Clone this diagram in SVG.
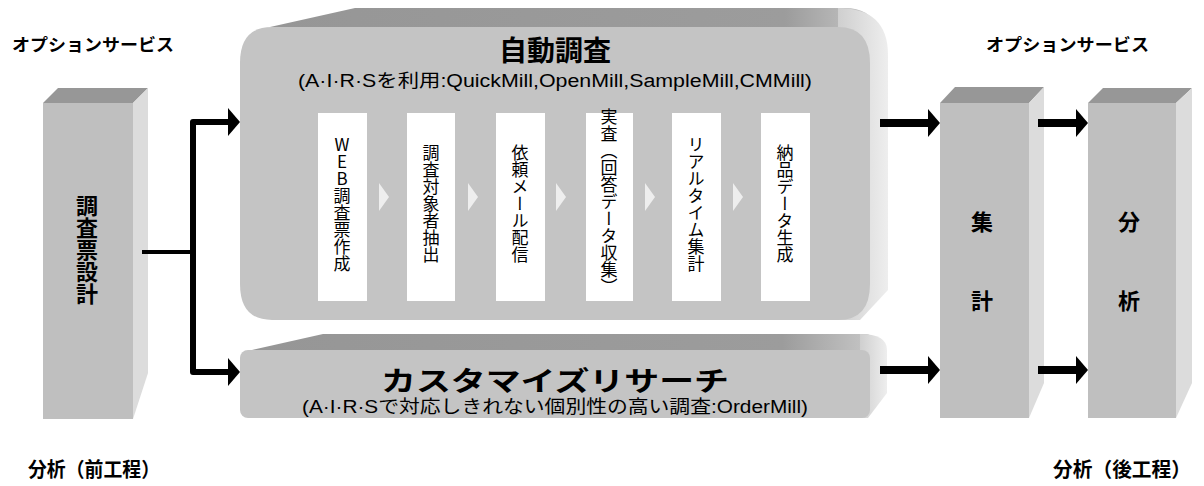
<svg xmlns="http://www.w3.org/2000/svg" width="1204" height="486" viewBox="0 0 1204 486">
<defs>
<style>
.front{fill:#bfbfbf}
.top{fill:#979797}
.side{fill:#dcdcdc}
.bfront{fill:#c4c4c4}
.jp{font-family:"Liberation Sans","Noto Sans CJK JP",sans-serif;fill:#000}
.cjk{font-family:"Noto Sans CJK JP","Liberation Sans",sans-serif;fill:#000}
.b{font-weight:bold}
.vt{writing-mode:vertical-rl;text-orientation:upright;font-size:17px;text-anchor:middle}
.vtb{writing-mode:vertical-rl;text-orientation:upright;font-size:22px;font-weight:bold;text-anchor:middle}
.step{fill:#fff}
.chev{fill:#eeeeee}
.conn{fill:none;stroke:#000;stroke-linejoin:round}
</style>
<linearGradient id="topg" x1="0" y1="0" x2="1" y2="0">
<stop offset="0" stop-color="#969696"/>
<stop offset="0.85" stop-color="#9c9c9c"/>
<stop offset="1" stop-color="#c8c8c8"/>
</linearGradient>
<linearGradient id="sideg" x1="0" y1="0" x2="1" y2="0">
<stop offset="0" stop-color="#cfcfcf"/>
<stop offset="1" stop-color="#eeeeee"/>
</linearGradient>
<marker id="ah" markerUnits="userSpaceOnUse" markerWidth="13" markerHeight="28" refX="1" refY="14" orient="auto">
<path d="M0,0 L12,14 L0,28 Z" fill="#000"/>
</marker>
</defs>
<rect width="1204" height="486" fill="#fff"/>

<text class="cjk b" x="12" y="51" font-size="17" textLength="162" lengthAdjust="spacingAndGlyphs">オプションサービス</text>
<text class="cjk b" x="986" y="51" font-size="17" textLength="163" lengthAdjust="spacingAndGlyphs">オプションサービス</text>
<text class="cjk b" x="28" y="477" font-size="20" textLength="132" lengthAdjust="spacingAndGlyphs">分析（前工程）</text>
<text class="cjk b" x="1053" y="477" font-size="20" textLength="138" lengthAdjust="spacingAndGlyphs">分析（後工程）</text>

<g id="node-design">
<polygon class="top" points="43,103 58,88 148,88 133,103"/>
<polygon class="side" points="133,103 148,88 148,373 133,419"/>
<rect class="front" x="43" y="103" width="90" height="316"/>
<text class="cjk vtb" x="87" y="250">調査票設計</text>
</g>

<g id="node-auto">
<path d="M270,27 L355,8 L845,8 Q870,8 876,27 Z" fill="url(#topg)"/>
<path d="M838,8 Q888,8 888,55 L888,290 L860,320 L838,320 Z" fill="url(#sideg)"/>
<path class="bfront" d="M272,27 L838,27 Q870,27 870,63 L870,284 Q870,320 838,320 L272,320 Q240,320 240,284 L240,63 Q240,27 272,27 Z"/>
<text class="cjk b" x="555" y="61" font-size="28" text-anchor="middle">自動調査</text>
<text class="jp" x="555" y="87" font-size="18" text-anchor="middle" textLength="514" lengthAdjust="spacingAndGlyphs">(A·I·R·Sを利用:QuickMill,OpenMill,SampleMill,CMMill)</text>
<rect class="step" x="318" y="113" width="49" height="188"/>
<rect class="step" x="407" y="113" width="48" height="188"/>
<rect class="step" x="496" y="113" width="49" height="188"/>
<rect class="step" x="586" y="113" width="47" height="188"/>
<rect class="step" x="672" y="113" width="49" height="188"/>
<rect class="step" x="761" y="113" width="49" height="188"/>
<polygon class="chev" points="379,183 389,197 379,211"/>
<polygon class="chev" points="468,183 478,197 468,211"/>
<polygon class="chev" points="556,183 566,197 556,211"/>
<polygon class="chev" points="645,183 655,197 645,211"/>
<polygon class="chev" points="733,183 743,197 733,211"/>
<text class="cjk vt" x="342" y="204">WEB調査票作成</text>
<text class="cjk vt" x="431" y="204">調査対象者抽出</text>
<text class="cjk vt" x="520" y="204">依頼メール配信</text>
<text class="cjk vt" x="609" y="202">実査（回答データ収集）</text>
<text class="cjk vt" x="696" y="204">リアルタイム集計</text>
<text class="cjk vt" x="785" y="204">納品データ生成</text>
</g>

<g id="node-custom">
<path d="M252,350 L323,334 L866,334 Q874,334 876,350 Z" fill="url(#topg)"/>
<path d="M860,334 Q887,334 887,350 L887,393 L868,418 L860,418 Z" fill="url(#sideg)"/>
<rect class="bfront" x="240" y="350" width="630" height="68" rx="8" ry="8"/>
<text class="cjk b" x="555" y="391" font-size="27" text-anchor="middle" textLength="348" lengthAdjust="spacingAndGlyphs">カスタマイズリサーチ</text>
<text class="jp" x="555" y="413" font-size="18" text-anchor="middle" textLength="506" lengthAdjust="spacingAndGlyphs">(A·I·R·Sで対応しきれない個別性の高い調査:OrderMill)</text>
</g>

<g id="node-aggregate">
<polygon class="top" points="940,103 955,87 1044,87 1029,103"/>
<polygon class="side" points="1029,103 1044,87 1044,383 1029,418"/>
<rect class="front" x="940" y="103" width="89" height="315"/>
<text class="cjk b" x="982" y="230" font-size="22" text-anchor="middle">集</text>
<text class="cjk b" x="982" y="309" font-size="22" text-anchor="middle">計</text>
</g>

<g id="node-analysis">
<polygon class="top" points="1088,103 1103,88 1192,88 1176,103"/>
<polygon class="side" points="1176,103 1192,88 1192,383 1176,418"/>
<rect class="front" x="1088" y="103" width="88" height="315"/>
<text class="cjk b" x="1129" y="230" font-size="22" text-anchor="middle">分</text>
<text class="cjk b" x="1129" y="309" font-size="22" text-anchor="middle">析</text>
</g>

<g id="connectors">
<path class="conn" stroke-width="4" d="M142,252 H193"/>
<path class="conn" stroke-width="6" d="M193,252 V122 H229" marker-end="url(#ah)"/>
<path class="conn" stroke-width="6" d="M193,252 V372 H229" marker-end="url(#ah)"/>
<path class="conn" stroke-width="8" d="M880,123 H929" marker-end="url(#ah)"/>
<path class="conn" stroke-width="8" d="M880,370 H929" marker-end="url(#ah)"/>
<path class="conn" stroke-width="8" d="M1038,123 H1077" marker-end="url(#ah)"/>
<path class="conn" stroke-width="8" d="M1038,370 H1077" marker-end="url(#ah)"/>
</g>
</svg>
